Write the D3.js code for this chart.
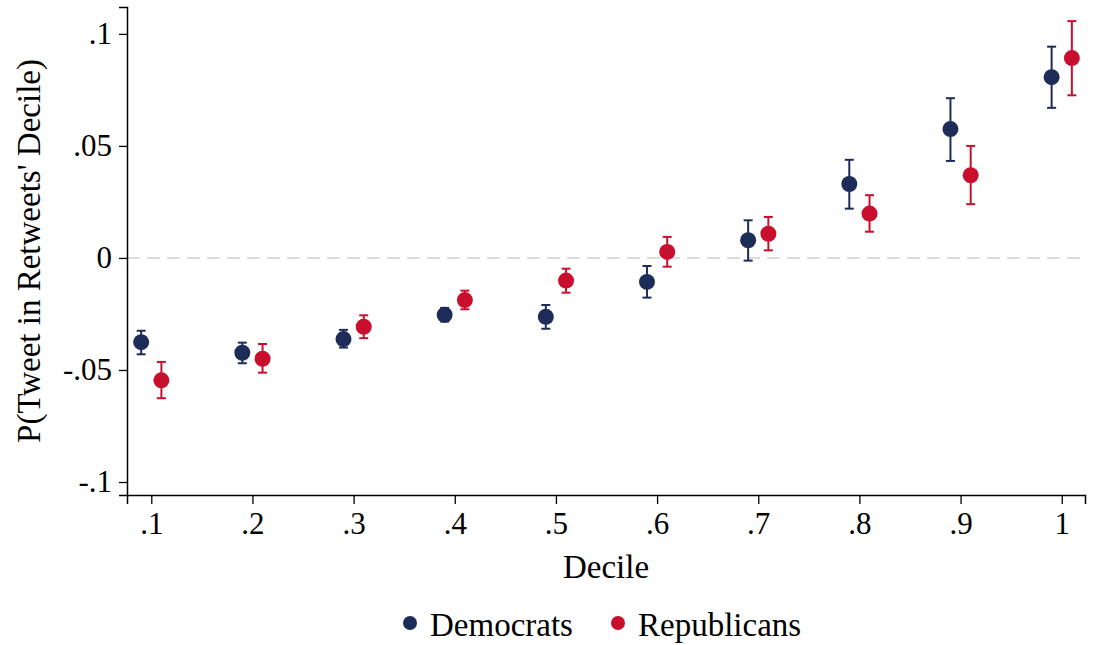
<!DOCTYPE html>
<html>
<head>
<meta charset="utf-8">
<script src="https://cdn.jsdelivr.net/npm/d3@7"></script>
<style>
  body { margin: 0; background: #fff; }
  svg { display: block; }
  svg text { font-family: "Liberation Serif", "Times New Roman", "DejaVu Serif", serif; }
</style>
</head>
<body>
<svg id="chart" width="1095" height="645"></svg>
<script>
// deciles on the x axis
const deciles = [0.1, 0.2, 0.3, 0.4, 0.5, 0.6, 0.7, 0.8, 0.9, 1.0];

// Democrats: estimate, upper and lower bound
const demEst = [-0.0376, -0.0423, -0.0362, -0.0254, -0.0263, -0.0107, 0.0079, 0.0330, 0.0575, 0.0807];
const demHi  = [-0.0325, -0.0378, -0.0321, -0.0223, -0.0210, -0.0036, 0.0168, 0.0438, 0.0713, 0.0943];
const demLo  = [-0.0430, -0.0470, -0.0400, -0.0284, -0.0316, -0.0177, -0.0012, 0.0220, 0.0433, 0.0670];

// Republicans
const repEst = [-0.0546, -0.0450, -0.0307, -0.0188, -0.0101, 0.0027, 0.0108, 0.0198, 0.0369, 0.0892];
const repHi  = [-0.0464, -0.0384, -0.0256, -0.0146, -0.0048, 0.0094, 0.0183, 0.0280, 0.0500, 0.1057];
const repLo  = [-0.0626, -0.0512, -0.0358, -0.0229, -0.0155, -0.0039, 0.0034, 0.0117, 0.0240, 0.0726];

const yTicks = [-0.1, -0.05, 0, 0.05, 0.1];
const yTickLabels = ["-.1", "-.05", "0", ".05", ".1"];
const xTickLabels = [".1", ".2", ".3", ".4", ".5", ".6", ".7", ".8", ".9", "1"];

const seriesNames = ["Democrats", "Republicans"];
const seriesColors = ["#1d2c58", "#c8102e"];
const offsets = [-0.01, 0.01];

const svg = d3.select("#chart");
const margin = {top: 7, right: 10, bottom: 150, left: 127};
const width = 1095, height = 645;
const plotBottom = height - margin.bottom; // 495

var xScale = d3.scaleLinear()
    .domain([0.076, 1.023])
    .range([margin.left, width - margin.right]);
var yScale = d3.scaleLinear()
    .domain([-0.1058, 0.112])
    .range([plotBottom, margin.top]);

// zero reference line
svg.append("line")
    .attr("x1", margin.left)
    .attr("x2", width - margin.right)
    .attr("y1", yScale(0))
    .attr("y2", yScale(0))
    .attr("stroke", "#dcdcdc")
    .attr("stroke-width", 2)
    .attr("stroke-dasharray", "13,7");

// axes
svg.append("g")
    .attr("transform", `translate(${margin.left},0)`)
    .call(d3.axisLeft(yScale).tickValues(yTicks)
        .tickFormat((d, i) => yTickLabels[i]).tickSizeOuter(0).tickSize(8).tickPadding(7));
svg.append("g")
    .attr("transform", `translate(0,${plotBottom})`)
    .call(d3.axisBottom(xScale).tickValues(deciles)
        .tickFormat((d, i) => xTickLabels[i]).tickSizeOuter(0).tickSize(9).tickPadding(8));

svg.selectAll(".domain").attr("stroke", "#000").attr("stroke-width", 1.5);
svg.selectAll(".tick line").attr("stroke", "#000").attr("stroke-width", 1.3);
svg.selectAll(".tick text")
    .attr("fill", "#000")
    .attr("font-family", null)
    .style("font-size", "31px");

// axis titles
svg.append("text")
    .attr("x", (margin.left + width - margin.right) / 2)
    .attr("y", 578)
    .attr("text-anchor", "middle")
    .attr("font-size", "33px")
    .text("Decile");
svg.append("text")
    .attr("transform", `translate(40,${(margin.top + plotBottom) / 2}) rotate(-90)`)
    .attr("text-anchor", "middle")
    .attr("font-size", "33px")
    .text("P(Tweet in Retweets' Decile)");

// error bars and points
const series = [
    {est: demEst, hi: demHi, lo: demLo},
    {est: repEst, hi: repHi, lo: repLo}
];
series.forEach((s, k) => {
    const g = svg.append("g").attr("stroke", seriesColors[k]).attr("fill", seriesColors[k]);
    const data = deciles.map((d, i) => ({x: d + offsets[k], est: s.est[i], hi: s.hi[i], lo: s.lo[i]}));
    g.selectAll("line.bar")
        .data(data).join("line")
        .attr("x1", d => xScale(d.x)).attr("x2", d => xScale(d.x))
        .attr("y1", d => yScale(d.hi)).attr("y2", d => yScale(d.lo))
        .attr("stroke-width", 2);
    g.selectAll("line.caphi")
        .data(data).join("line")
        .attr("x1", d => xScale(d.x) - 4.5).attr("x2", d => xScale(d.x) + 4.5)
        .attr("y1", d => yScale(d.hi)).attr("y2", d => yScale(d.hi))
        .attr("stroke-width", 2);
    g.selectAll("line.caplo")
        .data(data).join("line")
        .attr("x1", d => xScale(d.x) - 4.5).attr("x2", d => xScale(d.x) + 4.5)
        .attr("y1", d => yScale(d.lo)).attr("y2", d => yScale(d.lo))
        .attr("stroke-width", 2);
    g.selectAll("circle")
        .data(data).join("circle")
        .attr("cx", d => xScale(d.x))
        .attr("cy", d => yScale(d.est))
        .attr("r", 8)
        .attr("stroke", "none");
});

// legend
const legendX = [410, 618];
seriesNames.forEach((name, k) => {
    svg.append("circle")
        .attr("cx", legendX[k]).attr("cy", 623).attr("r", 7)
        .attr("fill", seriesColors[k]);
    svg.append("text")
        .attr("x", legendX[k] + 20).attr("y", 636)
        .attr("font-size", "33px")
        .text(name);
});
</script>
</body>
</html>
